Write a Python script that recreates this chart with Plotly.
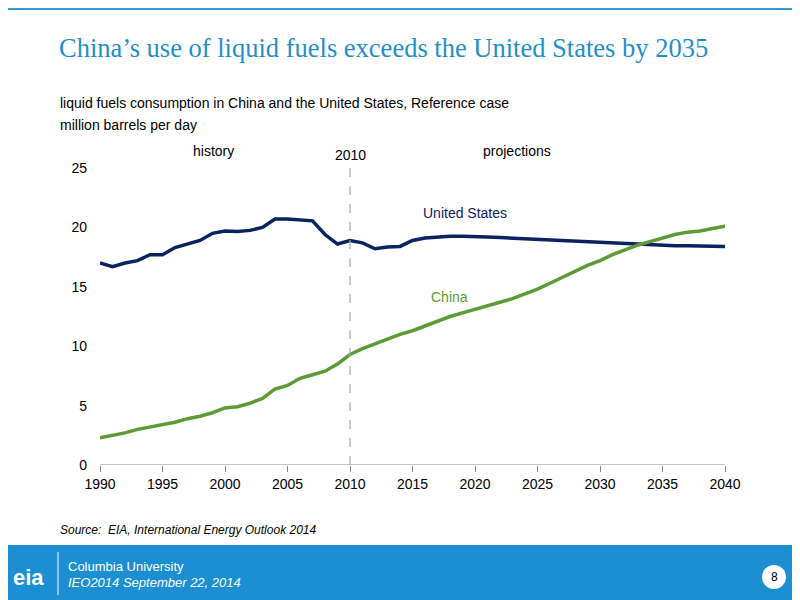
import plotly.graph_objects as go

years = list(range(1990, 2041))
us = [17.0,16.7,17.0,17.2,17.7,17.7,18.3,18.6,18.9,19.5,19.7,19.65,19.75,20.0,20.7,20.7,20.6,20.55,19.4,18.6,18.9,18.7,18.2,18.35,18.4,18.9,19.1,19.2,19.25,19.25,19.25,19.2,19.15,19.1,19.05,19.0,18.95,18.9,18.85,18.8,18.7,18.65,18.6,18.55,18.5,18.5,18.45,18.45,18.45,18.45,18.4]
china = [2.3,2.5,2.7,3.0,3.2,3.4,3.6,3.9,4.1,4.4,4.8,4.9,5.2,5.6,6.4,6.7,7.3,7.6,7.9,8.5,9.3,9.8,10.2,10.6,11.0,11.3,11.7,12.1,12.5,12.8,13.1,13.4,13.7,14.0,14.4,14.8,15.3,15.8,16.3,16.8,17.2,17.7,18.1,18.5,18.8,19.1,19.4,19.6,19.7,19.9,20.1]
tick_vals = [1990,1995,2000,2005,2010,2015,2020,2025,2030,2035,2040]

OFF = 8  # page offset of the figure
W, H = 800 - OFF, 600 - OFF
L, R, T, B = 100 - OFF, 800 - 725, 168 - OFF, 600 - 465
PW, PH = W - L - R, H - T - B

def px_x(p): return (p - OFF - L) / PW
def px_y(p): return (H - B - (p - OFF)) / PH

fig = go.Figure()
fig.add_trace(go.Scatter(x=years, y=us, mode="lines", line=dict(color="#0b2260", width=3.5), showlegend=False))
fig.add_trace(go.Scatter(x=years, y=china, mode="lines", line=dict(color="#5e9a35", width=3.5), showlegend=False))

fig.update_layout(
    width=W, height=H, paper_bgcolor="white", plot_bgcolor="white",
    margin=dict(l=L, r=R, t=T, b=B, autoexpand=False),
    font=dict(family="Arial, Liberation Sans, sans-serif", size=14, color="black"),
    xaxis=dict(range=[1990, 2040], tickvals=tick_vals, showgrid=False, zeroline=False,
               showline=False, ticks="outside", ticklen=6, tickcolor="#888"),
    yaxis=dict(range=[0, 25], dtick=5, showgrid=False, zeroline=False, showline=False, ticks="",
               ticklabelstandoff=12),
)

shapes = [
    dict(type="line", x0=1990, x1=2040, y0=0, y1=0, line=dict(color="#888", width=1)),
    dict(type="line", x0=2010, x1=2010, y0=0, y1=25, line=dict(color="#aaa", width=1.2, dash="dash")),
    dict(type="rect", xref="paper", yref="paper", x0=px_x(0), x1=px_x(800), y0=px_y(10), y1=px_y(8),
         fillcolor="#2a9ad6", line=dict(width=0)),
    dict(type="rect", xref="paper", yref="paper", x0=px_x(0), x1=px_x(800), y0=px_y(545), y1=px_y(610),
         fillcolor="#1b8fd2", line=dict(width=0)),
    dict(type="line", xref="paper", yref="paper", x0=px_x(58), x1=px_x(58), y0=px_y(552), y1=px_y(595),
         line=dict(color="white", width=1)),
    dict(type="circle", xref="paper", yref="paper", x0=px_x(762), x1=px_x(786), y0=px_y(565), y1=px_y(589),
         fillcolor="white", line=dict(width=0)),
]
fig.update_layout(shapes=shapes)

def ann(txt, x, y, sz=14, color="black", anc="left", fam=None):
    f = dict(size=sz, color=color)
    if fam: f["family"] = fam
    fig.add_annotation(text=txt, xref="paper", yref="paper", x=px_x(x), y=px_y(y), xanchor=anc,
                       yanchor="middle", showarrow=False, font=f)

ann("China’s use of liquid fuels exceeds the United States by 2035", 57, 48, 26.5, "#1f8fc9",
    fam="Times New Roman, Liberation Serif, serif")
ann("liquid fuels consumption in China and the United States, Reference case", 58, 103)
ann("million barrels per day", 58, 125)
ann("history", 213, 151, anc="center")
ann("2010", 350, 155, anc="center")
ann("projections", 517, 151, anc="center")
ann("United States", 465, 213, color="#0b2260", anc="center")
ann("China", 449, 297, color="#5e9a35", anc="center")
ann("<i>Source:  EIA, International Energy Outlook 2014</i>", 58, 530, 12)
ann("Columbia University", 66, 566, 13, "white")
ann("<i>IEO2014 September 22, 2014</i>", 66, 582, 13, "white")
ann("<b>eia</b>", 28, 577, 22, "white", anc="center")
ann("8", 774, 577, 12, anc="center")

fig.write_html("out.html")
